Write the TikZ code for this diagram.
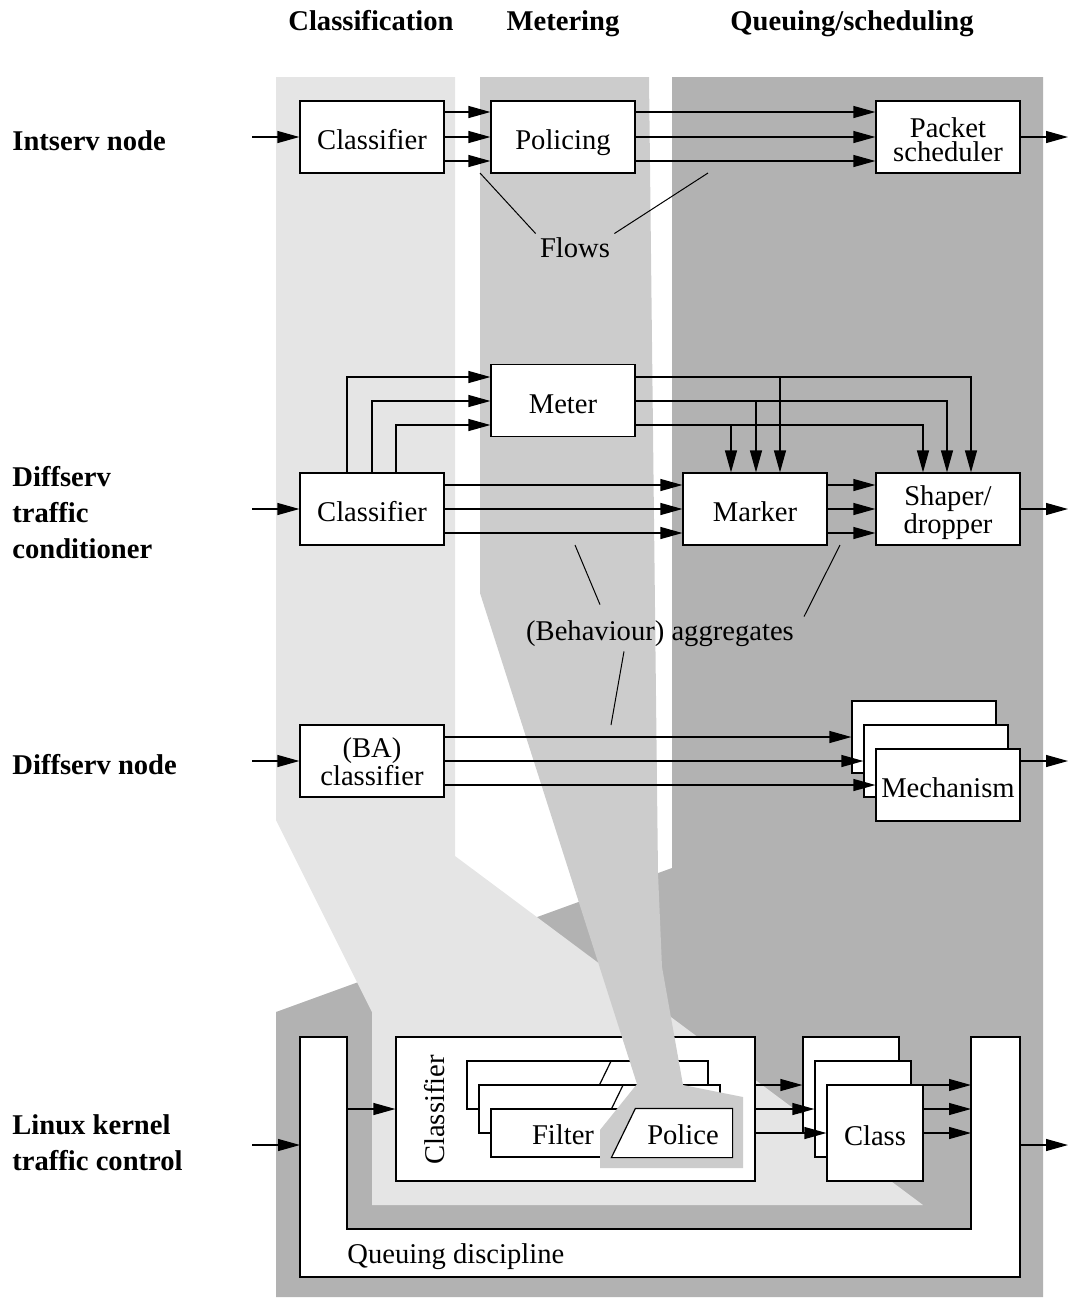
\documentclass[tikz,border=0pt]{standalone}
\usepackage{fontspec}
\setmainfont{Liberation Serif}
\usepackage{tikz}
\usetikzlibrary{arrows.meta}
\tikzset{every picture/.append style={font=\fontsize{14.3}{12}\selectfont}}
\definecolor{bandlight}{gray}{0.9}
\definecolor{bandmid}{gray}{0.8}
\definecolor{banddark}{gray}{0.7}
\tikzset{
  box/.style={draw,fill=white,line width=0.6pt,minimum width=72pt,minimum height=36pt,inner sep=1pt,align=center},
  blk/.style={box,text height=12.8pt,text depth=0pt},
  blktwo/.style={box,text height=24.8pt,text depth=0pt},
  arr/.style={line width=0.6pt,-{Triangle[length=11pt,width=6pt]}},
  hdr/.style={font=\bfseries\fontsize{14.3}{18}\selectfont,inner sep=0pt,anchor=base},
  rowlbl/.style={hdr,anchor=base west,align=left},
  lbl/.style={inner sep=2pt},
  lead/.style={line width=0.5pt},
}

\begin{document}
\begin{tikzpicture}[x=0.5pt,y=-0.5pt]
    \useasboundingbox (0,0) rectangle (1068,1298);
    \fill[banddark] (672,77) -- (1043,77) -- (1043,1297) -- (276,1297) -- (276,1012) -- (672,868) -- cycle;
    \fill[bandlight] (276,77) -- (455,77) -- (455,856) -- (923,1205) -- (372,1205) -- (372,1012) -- (276,820) -- cycle;

    \node[hdr] (hcls) at (371,30) {Classification};
    \node[hdr] (hmet) at (563,30) {Metering};
    \node[hdr] (hque) at (852,30) {Queuing/scheduling};
    \node[rowlbl] (lint) at (12,150) {Intserv node};
    \node[rowlbl] (ldsc) at (12,558) {Diffserv\\traffic\\conditioner};
    \node[rowlbl] (ldsn) at (12,774) {Diffserv node};
    \node[rowlbl] (llnx) at (12,1170) {Linux kernel\\traffic control};

    % linux kernel
    \draw[fill=white,line width=0.6pt] (300,1037) coordinate (qdOL) -- (347,1037) coordinate (qdIL) -- (347,1229) -- (971,1229)
      -- (971,1037) coordinate (qdIR) -- (1020,1037) coordinate (qdOR) -- (1020,1277) -- (300,1277) -- cycle;
    \node[anchor=west,inner sep=0pt] (qdlbl) at (347,1257) {Queuing discipline};
    \node[box,minimum width=179.5pt,minimum height=72pt] (lxcls) at (575.5,1109) {};
    \node[rotate=90,inner sep=0pt] (lxclslbl) at (435,1110) {Classifier};
    \foreach \n/\x/\y in {filtA/587.5/1085, filtB/599.5/1109, filtC/611.5/1133} {
      \node[box,minimum width=120.5pt,minimum height=24pt] (\n) at (\x,\y) {};
      \draw[line width=0.6pt] ([xshift=60.5pt]\n.south west) -- ([xshift=72.5pt]\n.north west);
    }
    \node[lbl] (filter) at (563,1135) {Filter};
    \fill[bandmid] (480,77) -- (649,77) -- (658,873) -- (662,967) -- (683,1085) -- (743,1097) -- (743,1168)
      -- (600,1168) -- (600,1130) -- (637,1084) -- (480,593) -- cycle;
    \draw[fill=white,line width=0.6pt] ([xshift=60.5pt]filtC.south west) -- ([xshift=72.5pt]filtC.north west)
      -- (filtC.north east) -- (filtC.south east) -- cycle;
    \node[lbl] (police) at (683,1135) {Police};
    \foreach \n/\x/\y/\t in {clA/851/1085/{}, clB/863/1109/{}, clC/875/1133/Class}
      \node[blk,minimum width=48pt,minimum height=48pt] (\n) at (\x,\y) {\t};
    \coordinate (in4) at (252,1145);
    \coordinate (out4) at (1068,1145);
    \draw[arr] (in4) -- (qdOL |- in4);
    \draw[arr] (qdIL |- 0,1109) -- (lxcls.west |- 0,1109);
    \foreach \y/\n in {1085/clA, 1109/clB, 1133/clC} {
      \draw[arr] (lxcls.east |- 0,\y) -- (\n.west |- 0,\y);
      \draw[arr] (clC.east |- 0,\y) -- (qdIR |- 0,\y);
    }
    \draw[arr] (qdOR |- out4) -- (out4);

    % intserv
    \node[blk] (cls1) at (372,137) {Classifier};
    \node[blk] (pol) at (563,137) {Policing};
    \node[blktwo] (psch) at (948,137) {Packet\\scheduler};
    \coordinate (in1) at (252,137);
    \coordinate (out1) at (1068,137);
    \draw[arr] (in1) -- (cls1);
    \draw[arr] (psch) -- (out1);
    \foreach \y in {112,137,161} {
      \draw[arr] (cls1.east |- 0,\y) -- (pol.west |- 0,\y);
      \draw[arr] (pol.east |- 0,\y) -- (psch.west |- 0,\y);
    }
    \node[lbl] (flows) at (575,248) {Flows};
    \draw[lead] (flows.north west) -- (480,173);
    \draw[lead] (flows.north east) -- (708,173);

    % diffserv conditioner
    \node[blk] (meter) at (563,400.5) {Meter};
    \node[blk] (cls2) at (372,509) {Classifier};
    \node[blk] (marker) at (755,509) {Marker};
    \node[blktwo] (shaper) at (948,509) {Shaper/\\dropper};
    \coordinate (in2) at (252,509);
    \coordinate (out2) at (1068,509);
    \draw[arr] (in2) -- (cls2);
    \draw[arr] (shaper) -- (out2);
    \foreach \x/\y in {347/377, 372/401, 396/425}
      \draw[arr] (cls2.north -| \x,0) |- (meter.west |- 0,\y);
    \foreach \y/\a/\b in {377/780/971, 401/756/947, 425/731/923} {
      \draw[arr] (meter.east |- 0,\y) -| (shaper.north -| \b,0);
      \draw[arr] (\a,\y) -- (marker.north -| \a,0);
    }
    \foreach \y in {485,509,533} {
      \draw[arr] (cls2.east |- 0,\y) -- (marker.west |- 0,\y);
      \draw[arr] (marker.east |- 0,\y) -- (shaper.west |- 0,\y);
    }
    \node[lbl] (agg) at (660,634) {(Behaviour) aggregates};
    \draw[lead] ([shift={(-30pt,6pt)}]agg.north) -- (575,545);
    \draw[lead] ([shift={(72pt,0pt)}]agg.north) -- (840,545);
    \draw[lead] ([shift={(-18pt,0pt)}]agg.south) -- (611,725);

    % diffserv node
    \node[blktwo] (bacls) at (372,761) {(BA)\\classifier};
    \foreach \n/\x/\y/\t in {mechA/924/737/{}, mechB/936/761/{}, mechC/948/785/Mechanism}
      \node[blk] (\n) at (\x,\y) {\t};
    \coordinate (in3) at (252,761);
    \coordinate (out3) at (1068,761);
    \draw[arr] (in3) -- (bacls);
    \draw[arr] (mechC.east |- out3) -- (out3);
    \foreach \y/\n in {737/mechA, 761/mechB, 785/mechC}
      \draw[arr] (bacls.east |- 0,\y) -- (\n.west |- 0,\y);
\end{tikzpicture}
\end{document}
